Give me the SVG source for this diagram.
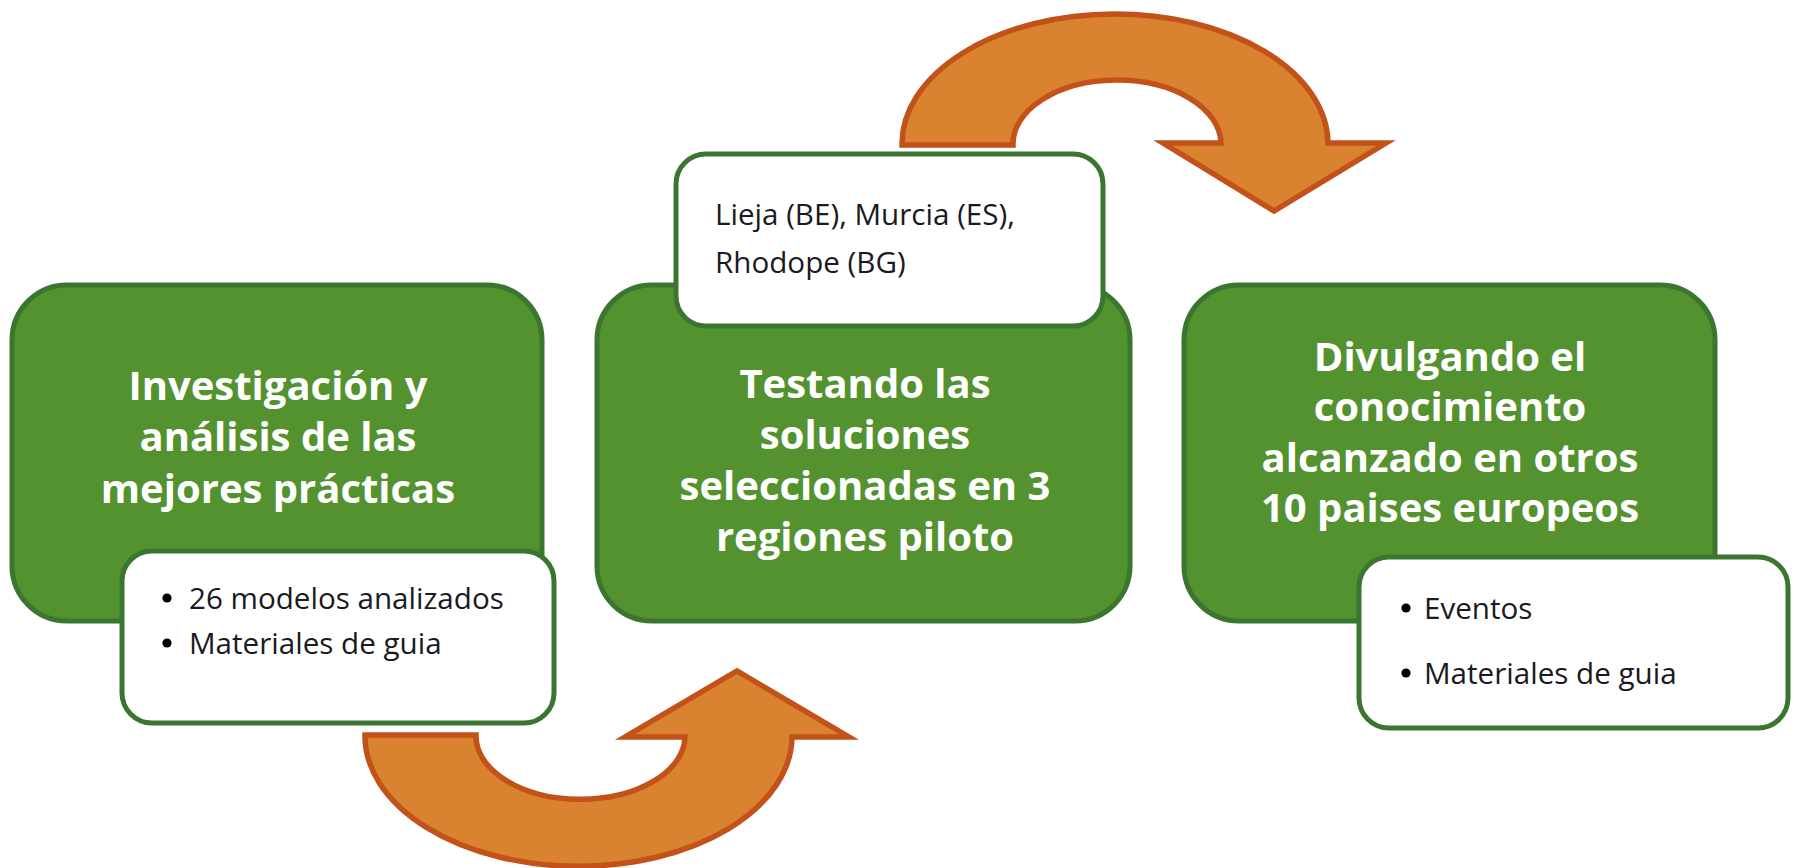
<svg xmlns="http://www.w3.org/2000/svg" width="1794" height="868" viewBox="0 0 1794 868">
<style>
.g{fill:#53922F;stroke:#3B7630;stroke-width:5}
.w{fill:#FFFFFF;stroke:#3B7630;stroke-width:5}
.arr{fill:#D9822F;stroke:#C3521A;stroke-width:5.5;stroke-linejoin:miter;stroke-miterlimit:4}
.t{font-family:"Open Sans","Noto Sans",sans-serif;font-weight:700;font-size:40px;fill:#FFFFFF;text-anchor:middle}
.b{font-family:"Open Sans","Noto Sans",sans-serif;font-size:29.6px;fill:#1A1A22}
.d{fill:#000000}
</style>
<rect width="1794" height="868" fill="#FFFFFF"/>
<g id="connectors">
<path class="arr" d="M 365 735 A 213 130 0 0 0 792 737 L 849 737 L 737 671 L 625 737 L 685 737 A 104 63 0 0 1 476 735 Z"/>
<path class="arr" d="M 902 145 A 213 130 0 0 1 1328 143 L 1386 143 L 1274 211 L 1163 143 L 1221 143 A 104 64 0 0 0 1013 145 Z"/>
</g>
<g id="node1">
<rect class="g" x="12" y="285" width="530" height="336" rx="55"/>
<text class="t" x="278" y="400">Investigación y</text>
<text class="t" x="278" y="451">análisis de las</text>
<text class="t" x="278" y="503">mejores prácticas</text>
</g>
<g id="node1-detail">
<rect class="w" x="122" y="551" width="432" height="172" rx="30"/>
<circle class="d" cx="167" cy="598" r="4.6"/>
<text class="b" x="189" y="609">26 modelos analizados</text>
<circle class="d" cx="167" cy="643" r="4.6"/>
<text class="b" x="189" y="654">Materiales de guia</text>
</g>
<g id="node2">
<rect class="g" x="597" y="285" width="533" height="336" rx="55"/>
<text class="t" x="865" y="398">Testando las</text>
<text class="t" x="865" y="449">soluciones</text>
<text class="t" x="865" y="500">seleccionadas en 3</text>
<text class="t" x="865" y="551">regiones piloto</text>
</g>
<g id="node2-detail">
<rect class="w" x="676" y="154" width="427" height="172" rx="30"/>
<text class="b" x="715" y="225">Lieja (BE), Murcia (ES),</text>
<text class="b" x="715" y="273">Rhodope (BG)</text>
</g>
<g id="node3">
<rect class="g" x="1184" y="285" width="531" height="336" rx="55"/>
<text class="t" x="1450" y="371">Divulgando el</text>
<text class="t" x="1450" y="421">conocimiento</text>
<text class="t" x="1450" y="472">alcanzado en otros</text>
<text class="t" x="1450" y="522">10 paises europeos</text>
</g>
<g id="node3-detail">
<rect class="w" x="1359" y="557" width="429" height="171" rx="30"/>
<circle class="d" cx="1406" cy="608" r="4.6"/>
<text class="b" x="1424" y="619">Eventos</text>
<circle class="d" cx="1406" cy="673" r="4.6"/>
<text class="b" x="1424" y="684">Materiales de guia</text>
</g>
</svg>
